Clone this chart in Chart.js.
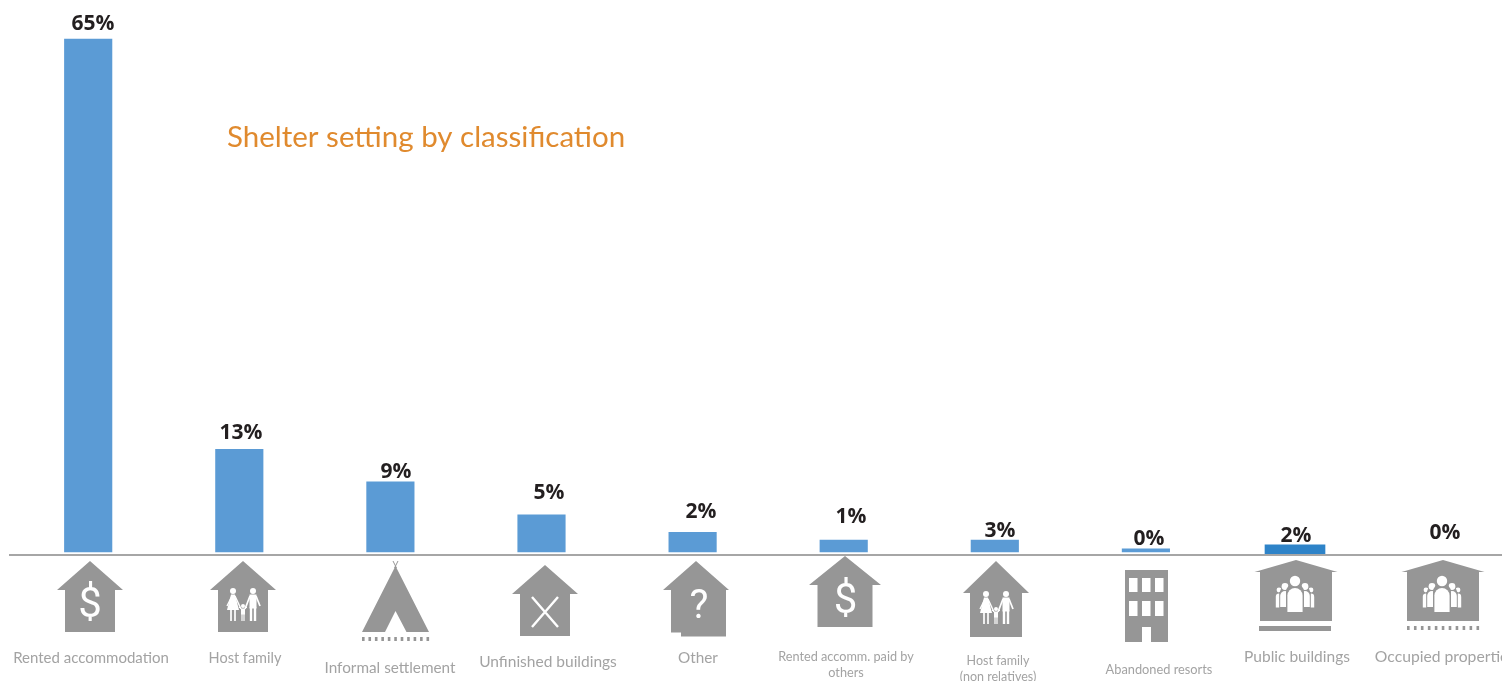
<!DOCTYPE html>
<html>
<head>
<meta charset="utf-8">
<title>Shelter setting by classification</title>
<script src="https://cdn.jsdelivr.net/npm/chart.js@4"></script>
<style>
  html, body { margin: 0; padding: 0; background: #fff; overflow: hidden; }
  canvas { display: block; }
</style>
</head>
<body>
<canvas id="shelter" width="1530" height="681"></canvas>
<script>
const categories = [
  ["Rented accommodation"], ["Host family"], ["Informal settlement"], ["Unfinished buildings"], ["Other"],
  ["Rented accomm. paid by", "others"], ["Host family", "(non relatives)"], ["Abandoned resorts"],
  ["Public buildings"], ["Occupied properties"],
];
const valueLabels = ["65%", "13%", "9%", "5%", "2%", "1%", "3%", "0%", "2%", "0%"];
// bar heights as drawn in the picture, they don't always follow the printed label
const barHeights = [65, 13, 8.9, 4.7, 2.5, 1.5, 1.5, 0.4, null, null];
// public buildings bar is wider, darker and sits on the axis line
const publicBar = [null, null, null, null, null, null, null, null, [-0.38, 0.9], null];

// label placement, not data
const valueLabelX = [93, 241, 396, 549, 701, 851, 1000, 1149, 1296, 1445];
const valueLabelY = [24, 433, 472, 493, 512, 517, 531, 539, 536, 533];
const categoryX = [91, 245, 390, 548, 698, 846, 998, 1159, 1297, 1445];
const categoryY = [658, 658, 668, 662, 658, 657, 661, 670, 657, 657];
const categorySize = [15, 14.5, 15.3, 15.5, 15.3, 12.7, 12.5, 12.8, 15.5, 15.7];

const ICON = "#969696";

function house(ctx, cx, top, eave, bottom, roofHalf, bodyHalf) {
  ctx.fillStyle = ICON;
  ctx.beginPath();
  ctx.moveTo(cx, top);
  ctx.lineTo(cx + roofHalf, eave);
  ctx.lineTo(cx + bodyHalf, eave);
  ctx.lineTo(cx + bodyHalf, bottom);
  ctx.lineTo(cx - bodyHalf, bottom);
  ctx.lineTo(cx - bodyHalf, eave);
  ctx.lineTo(cx - roofHalf, eave);
  ctx.closePath();
  ctx.fill();
}

function glyph(ctx, ch, x, y, size) {
  ctx.fillStyle = "#fff";
  ctx.font = `${size}px "Liberation Sans Narrow", Roboto`;
  ctx.textAlign = "center";
  ctx.textBaseline = "middle";
  ctx.fillText(ch, x, y);
}

function family(ctx, cx, top) {
  ctx.fillStyle = "#fff";
  ctx.strokeStyle = "#fff";
  const head = (x, y, r) => { ctx.beginPath(); ctx.arc(x, y, r, 0, Math.PI * 2); ctx.fill(); };
  const line = (w, pts) => {
    ctx.lineWidth = w;
    ctx.beginPath();
    pts.forEach((p, i) => (i ? ctx.lineTo(p[0], p[1]) : ctx.moveTo(p[0], p[1])));
    ctx.stroke();
  };
  // woman
  head(cx - 10, top + 30, 3);
  ctx.beginPath();
  ctx.moveTo(cx - 12, top + 33.5);
  ctx.lineTo(cx - 8, top + 33.5);
  ctx.lineTo(cx - 4, top + 49);
  ctx.lineTo(cx - 16, top + 49);
  ctx.closePath();
  ctx.fill();
  line(1.7, [[cx - 12, top + 48], [cx - 12, top + 60]]);
  line(1.7, [[cx - 8, top + 48], [cx - 8, top + 60]]);
  line(1.4, [[cx - 11, top + 35], [cx - 16, top + 45]]);
  line(1.4, [[cx - 8, top + 35], [cx - 2, top + 48]]);
  // man
  head(cx + 10, top + 30, 3);
  ctx.fillRect(cx + 6.5, top + 33.5, 7, 14);
  line(2.4, [[cx + 8, top + 46], [cx + 8, top + 60]]);
  line(2.4, [[cx + 12, top + 46], [cx + 12, top + 60]]);
  line(1.7, [[cx + 7, top + 35], [cx + 2, top + 48]]);
  line(1.7, [[cx + 13, top + 35], [cx + 17, top + 45]]);
  // child
  head(cx, top + 45, 2);
  ctx.fillRect(cx - 2, top + 47.5, 4, 6);
  line(1.2, [[cx - 1, top + 53], [cx - 1, top + 60]]);
  line(1.2, [[cx + 1, top + 53], [cx + 1, top + 60]]);
  line(1, [[cx - 2, top + 48], [cx - 4, top + 46]]);
  line(1, [[cx + 2, top + 48], [cx + 4, top + 46]]);
}

function people(ctx, cx, top) {
  const body = (x, y, w, h) => {
    ctx.fillStyle = "#fff";
    ctx.beginPath();
    ctx.moveTo(x - w, y + h);
    ctx.lineTo(x - w, y + w);
    ctx.arc(x, y + w, w, Math.PI, 0);
    ctx.lineTo(x + w, y + h);
    ctx.closePath();
    ctx.fill();
  };
  const head = (x, y, r) => { ctx.fillStyle = "#fff"; ctx.beginPath(); ctx.arc(x, y, r, 0, Math.PI * 2); ctx.fill(); };
  [-1, 1].forEach((s) => {
    head(cx + s * 16, top + 30, 2.4);
    body(cx + s * 16, top + 33.5, 3.2, 14);
  });
  [-1, 1].forEach((s) => {
    ctx.fillStyle = ICON;
    ctx.beginPath();
    ctx.arc(cx + s * 10, top + 33, 5.4, 0, Math.PI * 2);
    ctx.fill();
    ctx.fillRect(cx + s * 10 - 5.8, top + 32, 11.6, 17);
    head(cx + s * 10, top + 26.5, 3.4);
    body(cx + s * 10, top + 31, 4.8, 16);
  });
  ctx.fillStyle = ICON;
  ctx.beginPath();
  ctx.arc(cx, top + 32, 9, 0, Math.PI * 2);
  ctx.fill();
  ctx.fillRect(cx - 9, top + 32, 18, 21);
  head(cx, top + 21, 5.2);
  body(cx, top + 28, 7.6, 24);
}

function dashes(ctx, x0, x1, y) {
  ctx.fillStyle = ICON;
  const n = 11;
  for (let i = 0; i < n; i++) {
    const x = x0 + ((x1 - x0 - 2.5) * i) / (n - 1);
    ctx.fillRect(x, y - 2, 2.6, 4);
  }
}

function drawIcons(ctx) {
  house(ctx, 90, 561, 590, 632, 33, 25);
  glyph(ctx, "$", 90, 606, 42);

  house(ctx, 243, 561, 590, 632, 33, 25);
  family(ctx, 243, 561);

  // tent
  ctx.fillStyle = ICON;
  ctx.beginPath();
  ctx.moveTo(395.5, 566);
  ctx.lineTo(429, 632);
  ctx.lineTo(406.5, 632);
  ctx.lineTo(395.5, 611);
  ctx.lineTo(385, 632);
  ctx.lineTo(362, 632);
  ctx.closePath();
  ctx.fill();
  ctx.strokeStyle = ICON;
  ctx.lineWidth = 1;
  ctx.beginPath();
  ctx.moveTo(393, 561); ctx.lineTo(396.5, 568);
  ctx.moveTo(398, 561); ctx.lineTo(394.5, 568);
  ctx.stroke();
  dashes(ctx, 362, 429, 639);

  house(ctx, 545, 565, 594, 636, 33, 25);
  ctx.strokeStyle = "#fff";
  ctx.lineWidth = 2.4;
  ctx.beginPath();
  ctx.moveTo(532, 597); ctx.lineTo(558, 627);
  ctx.moveTo(558, 597); ctx.lineTo(532, 627);
  ctx.stroke();

  // "other" house body is off centre under its roof, with a step at the bottom left
  house(ctx, 696, 561, 590, 632.5, 33, 25);
  ctx.fillRect(681, 632, 45, 4.5);
  ctx.fillRect(720, 590, 6, 44);
  glyph(ctx, "?", 699, 608, 40);

  house(ctx, 845, 556, 585, 627, 36, 27.5);
  glyph(ctx, "$", 845.5, 602, 42);

  house(ctx, 996, 561, 593, 637, 33, 26);
  family(ctx, 996, 564);

  // building
  ctx.fillStyle = ICON;
  ctx.fillRect(1125, 570, 43, 72);
  ctx.fillStyle = "#fff";
  [1129, 1142, 1155].forEach((x) => {
    ctx.fillRect(x, 578, 8.5, 14);
    ctx.fillRect(x, 601, 8.5, 15);
  });
  ctx.fillRect(1142, 627, 9, 15);

  // public buildings
  [1296, 1443].forEach((cx) => {
    ctx.fillStyle = ICON;
    ctx.beginPath();
    ctx.moveTo(cx, 560);
    ctx.lineTo(cx + 41.5, 572);
    ctx.lineTo(cx - 41.5, 572);
    ctx.closePath();
    ctx.fill();
    ctx.fillRect(cx - 36, 572, 72, 49);
    people(ctx, cx - 1, 560);
  });
  ctx.fillStyle = ICON;
  ctx.fillRect(1259, 626, 72, 5);
  dashes(ctx, 1407, 1479, 628);
}

const annotations = {
  id: "annotations",
  beforeDatasetsDraw(chart) {
    // the public buildings bar sits a little left of its band in the original
    const el = chart.getDatasetMeta(1).data[8];
    if (!el.nudged) { el.x -= 2; el.nudged = true; }
  },
  afterDraw(chart) {
    const { ctx, chartArea } = chart;
    ctx.save();

    // axis line starts left of the first category band
    ctx.strokeStyle = "#a6a6a6";
    ctx.lineWidth = 2;
    ctx.beginPath();
    ctx.moveTo(9, chartArea.bottom);
    ctx.lineTo(chart.width, chartArea.bottom);
    ctx.stroke();

    ctx.fillStyle = "#e08a2e";
    ctx.font = '29.5px Lato';
    ctx.textAlign = "left";
    ctx.textBaseline = "middle";
    ctx.fillText("Shelter setting by classification", 227, 137);

    drawIcons(ctx);

    ctx.fillStyle = "#231f20";
    ctx.font = 'bold 21px "Open Sans"';
    ctx.textAlign = "center";
    ctx.textBaseline = "middle";
    valueLabels.forEach((t, i) => ctx.fillText(t, valueLabelX[i], valueLabelY[i]));

    ctx.fillStyle = "#a3a3a3";
    ctx.textBaseline = "middle";
    categories.forEach((lines, i) => {
      ctx.font = `${categorySize[i]}px Lato`;
      lines.forEach((t, k) => ctx.fillText(t, categoryX[i], categoryY[i] + k * 16));
    });
    ctx.restore();
  },
};

new Chart(document.getElementById("shelter"), {
  type: "bar",
  data: {
    labels: categories.map((c) => c.join(" ")),
    datasets: [
      { data: barHeights, backgroundColor: "#5b9bd5", barThickness: 47.5, grouped: false },
      { data: publicBar, backgroundColor: "#2e83c8", barThickness: 60, grouped: false },
    ],
  },
  options: {
    responsive: false,
    animation: false,
    layout: { padding: { top: 7.5, bottom: 126, left: 12.65, right: 6.35 } },
    plugins: { legend: { display: false }, tooltip: { enabled: false }, title: { display: false } },
    scales: {
      x: { display: false, offset: true },
      y: { display: false, min: -0.38, max: 69 },
    },
  },
  plugins: [annotations],
});
</script>
</body>
</html>
